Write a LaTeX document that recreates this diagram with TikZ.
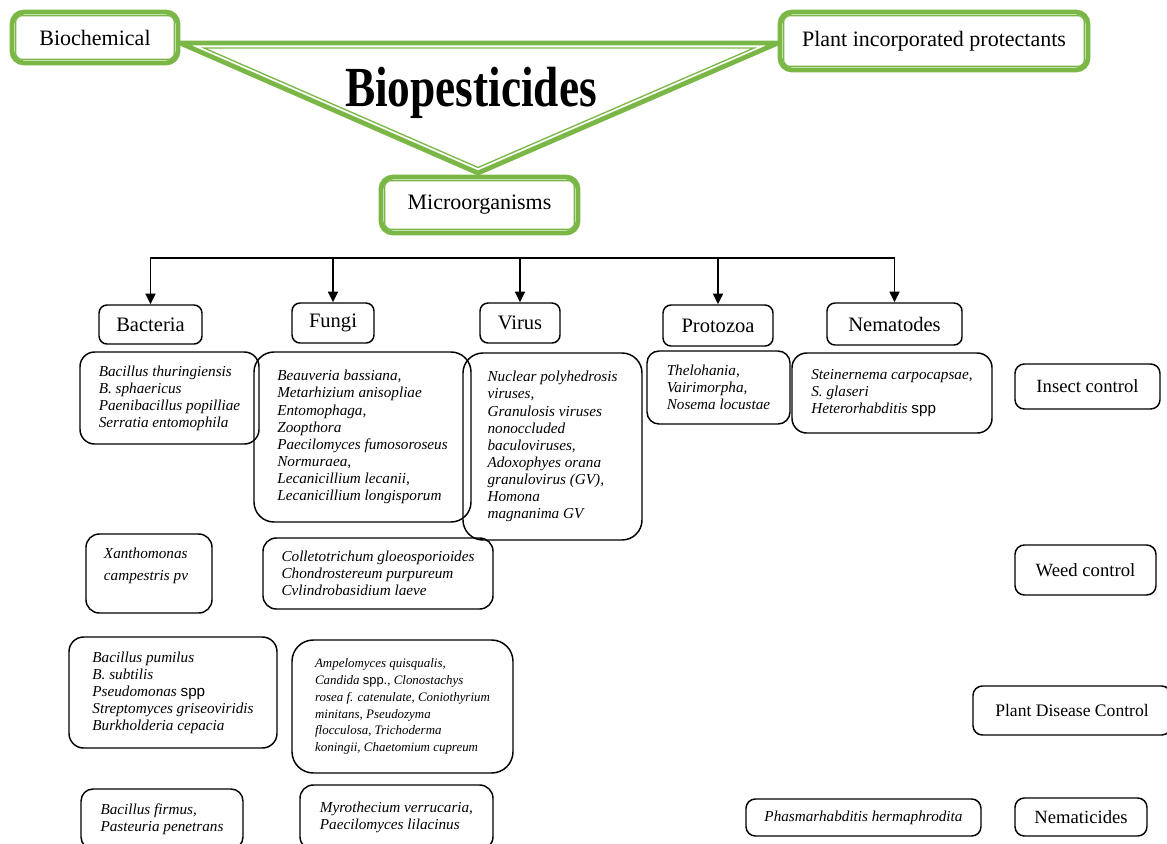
\documentclass[tikz,border=0pt]{standalone}
\usepackage{fontspec}
\setmainfont{Liberation Serif}
\newfontfamily\sppfont{Liberation Sans}
\usetikzlibrary{arrows.meta}
\definecolor{bpgreen}{RGB}{122,183,70}
\newcommand{\sppword}[1][spp]{{\upshape\sppfont #1}}
\tikzset{
  dims/.style 2 args = {minimum width=#1*0.75pt, minimum height=#2*0.75pt},
  greenbox/.style = {draw=bpgreen, line width=3.6pt, fill=white,
                     rounded corners=9pt, inner sep=0pt,
                     font=\fontsize{16.5pt}{19pt}\selectfont},
  greenline/.style = {draw=bpgreen, line width=1pt, rounded corners=5pt},
  catbox/.style = {draw, line width=1.1pt, rounded corners=6pt, inner sep=0pt,
                   font=\fontsize{15.4pt}{18pt}\selectfont},
  ctrlbox/.style = {catbox, rounded corners=7pt,
                    font=\fontsize{14pt}{16pt}\selectfont},
  listbox/.style = {draw, line width=1.1pt, rounded corners=#1, inner sep=0pt,
                    align=left, font=\itshape\fontsize{11.4pt}{12.8pt}\selectfont},
  listbox/.default = 11pt,
  arr/.style = {line width=1.3pt, -{Triangle[length=8pt,width=7.5pt]}}
}

\begin{document}
\begin{tikzpicture}[x=0.75pt,y=-0.75pt]
	\useasboundingbox (0,0) rectangle (1167,843);
	\clip (0,0) rectangle (1167,843);

	% Triangle
	\coordinate (tl) at (180,43);
	\coordinate (tr) at (778,43);
	\coordinate (tb) at (478,173);
	\draw[bpgreen, line width=3.6pt, line join=round] (tl) -- (tr) -- (tb) -- cycle;
	\draw[bpgreen, line width=1pt] (204,48) -- (754,48) -- (478,167.5) -- cycle;

	% Top level
	\node[greenbox, dims={166}{51}] (bio) at (95,37.5) {Biochemical};
	\node[greenbox, dims={308}{58}] (pip) at (934,41) {Plant incorporated protectants};
	\node[greenbox, dims={197}{56}] (micro) at (479.5,205) {Microorganisms};
	\foreach \n in {bio,pip,micro}
		\draw[greenline] ([shift={(4.5pt,-4.5pt)}]\n.north west) rectangle ([shift={(-4.5pt,4.5pt)}]\n.south east);

	\node[anchor=base, font=\bfseries\fontsize{34pt}{40pt}\selectfont] (title) at (471,106) {\scalebox{1}[1.25]{Biopesticides}};

	% Groups
	\node[catbox, dims={103}{39}] (bact) at (150.5,324.5) {Bacteria};
	\node[catbox, dims={82}{40}] (fungi) at (333,323) {Fungi};
	\node[catbox, dims={80}{40}] (virus) at (520,323) {Virus};
	\node[catbox, dims={110}{41}] (proto) at (718,325.5) {Protozoa};
	\node[catbox, dims={135}{42}] (nema) at (894.5,324) {Nematodes};

	% Arrows
	\coordinate (bar) at (0,258);
	\draw[line width=1.3pt, line cap=rect] (bact.north |- bar) -- (nema.north |- bar);
	\foreach \n in {bact,fungi,virus,proto,nema}
		\draw[arr] (\n.north |- bar) -- (\n.north);

	% Insect control
	\node[listbox, dims={179}{92}] (bactins) at (169.5,398) {Bacillus thuringiensis\\B. sphaericus\\Paenibacillus popilliae\\Serratia entomophila};
	\node[listbox=15pt, dims={217}{170}] (fungins) at (362.5,437) {Beauveria bassiana,\\Metarhizium anisopliae\\Entomophaga,\\Zoopthora\\Paecilomyces fumosoroseus\\Normuraea,\\Lecanicillium lecanii,\\Lecanicillium longisporum};
	\node[listbox=15pt, dims={179}{187}] (virins) at (552.5,446.5) {Nuclear polyhedrosis\\viruses,\\Granulosis viruses\\nonoccluded\\baculoviruses,\\Adoxophyes orana\\granulovirus (GV),\\Homona\\magnanima GV};
	\node[listbox=9pt, dims={143}{73}] (protins) at (718.5,387.5) {Thelohania,\\Vairimorpha,\\Nosema locustae};
	\node[listbox, dims={200}{80}] (nemains) at (892,393) {Steinernema carpocapsae,\\S. glaseri\\Heterorhabditis \sppword};
	\node[ctrlbox, dims={145}{45}] (insect) at (1087.5,386.5) {Insect control};

	% Weed control
	\node[listbox=10pt, dims={126}{79}] (bactweed) at (149,573.5) {};
	\node[align=left, inner sep=0pt, font=\itshape\fontsize{11.4pt}{16pt}\selectfont] (bactweedT) at (146,566) {Xanthomonas\\campestris pv};
	\node[listbox=10pt, dims={230}{71}] (fungweed) at (378,573.5) {Colletotrichum gloeosporioides\\Chondrostereum purpureum\\Cvlindrobasidium laeve};
	\node[ctrlbox, dims={141}{50}] (weed) at (1085.5,570) {Weed control};

	% Plant disease control
	\node[listbox, dims={208}{111}] (bactdis) at (173,692.5) {Bacillus pumilus\\B. subtilis\\Pseudomonas \sppword\\Streptomyces griseoviridis\\Burkholderia cepacia};
	\node[listbox=16pt, font=\itshape\fontsize{9.7pt}{12.6pt}\selectfont, dims={221}{133}] (fungdis) at (402.5,706.5) {Ampelomyces quisqualis,\\Candida \sppword[spp.], Clonostachys\\rosea f. catenulate, Coniothyrium\\minitans, Pseudozyma\\flocculosa, Trichoderma\\koningii, Chaetomium cupreum};
	\node[ctrlbox, font=\fontsize{13.2pt}{16pt}\selectfont, dims={198}{49}] (disease) at (1072,710.5) {Plant Disease Control};

	% Nematicides
	\node[listbox=9pt, dims={162}{60}] (bactnem) at (162,819) {Bacillus firmus,\\Pasteuria penetrans};
	\node[listbox=10pt, dims={193}{65}] (fungnem) at (396.5,817.5) {Myrothecium verrucaria,\\Paecilomyces lilacinus};
	\node[listbox=7pt, dims={235}{37}] (nemanem) at (863.5,817.5) {Phasmarhabditis hermaphrodita};
	\node[ctrlbox, dims={132}{38}] (nematic) at (1081,817) {Nematicides};

\end{tikzpicture}
\end{document}
